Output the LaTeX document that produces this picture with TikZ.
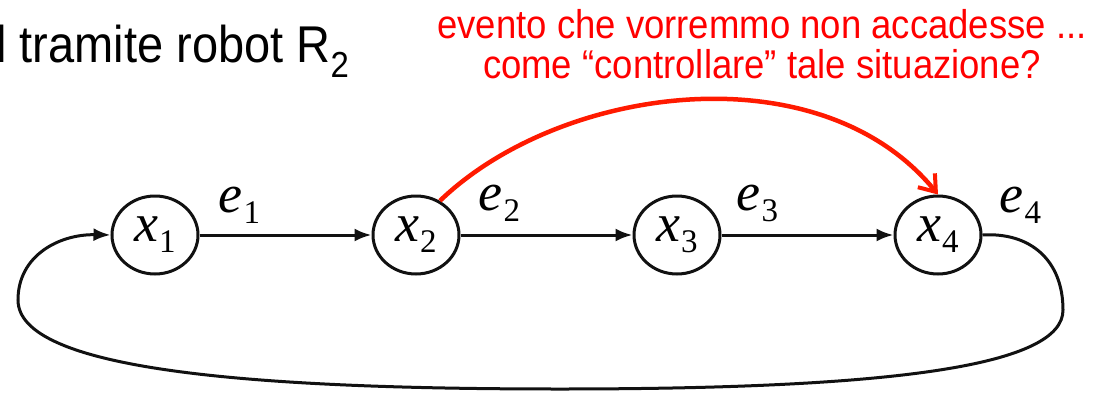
\documentclass[tikz,border=0pt]{standalone}
\usepackage{fontspec}
\setmainfont{Liberation Sans}
\newfontfamily\tmsfont{Liberation Serif}
\usepackage{xcolor}
\definecolor{evred}{HTML}{FF1A00}
\definecolor{evtext}{HTML}{FF0000}
\definecolor{stdark}{HTML}{111111}
\usepackage{tikz}
\usetikzlibrary{arrows.meta,positioning,shapes.geometric,calc}
\newcommand{\symsub}[2]{{\itshape #1}\kern1pt\raisebox{-11pt}{\fontsize{33}{36}\selectfont #2}}

\begin{document}
\begin{tikzpicture}[x=1pt,y=-1pt,>={Latex[length=17pt,width=13pt]},node distance=172pt]
\tikzset{
 state/.style={draw=stdark,ellipse,line width=3pt,minimum width=86pt,minimum height=78pt,inner sep=0pt,font=\tmsfont\fontsize{54}{58}\selectfont},
 lbl/.style={inner sep=0pt,font=\tmsfont\fontsize{54}{58}\selectfont},
 arrow/.style={->,draw=stdark,line width=3pt},
 redarrow/.style={-{Straight Barb[length=15pt,width=22pt,line width=4pt]},draw=evred,line width=4.5pt}
}
\useasboundingbox (0,0) rectangle (1109,394);
\node[state] (x1) at (155,235) {\symsub{x}{1}};
\node[state,right=of x1] (x2) {\symsub{x}{2}};
\node[state,right=of x2] (x3) {\symsub{x}{3}};
\node[state,right=of x3] (x4) {\symsub{x}{4}};
\node[lbl] (e1) at ($(x1.east)+(40,-30)$) {\symsub{e}{1}};
\node[lbl] (e2) at ($(x2.east)+(39,-32)$) {\symsub{e}{2}};
\node[lbl] (e3) at ($(x3.east)+(36,-32)$) {\symsub{e}{3}};
\node[lbl] (e4) at ($(x4.east)+(38,-30)$) {\symsub{e}{4}};
\draw[arrow] (x1)--(x2);
\draw[arrow] (x2)--(x3);
\draw[arrow] (x3)--(x4);
\draw[arrow] (x4.east) .. controls (1030,232) and (1063,260) .. (1063,310)
 .. controls (1063,365) and (900,389) .. (560,389)
 .. controls (250,389) and (18,370) .. (18,300)
 .. controls (18,255) and (60,234) .. (x1.west);
\draw[redarrow] (x2.55) .. controls (560,85) and (820,50) .. (x4.north);
% testi in alto
\node[anchor=base west,inner sep=0pt,font=\fontsize{47}{50}\selectfont] (robot) at (-4,62)
 {\scalebox{1}[1.1]{l tramite robot R\textsubscript{2}}};
\node[align=center,text=evtext,inner sep=0pt,font=\fontsize{36.5}{40}\selectfont] (quest) at (762,44)
 {\scalebox{1}[1.1]{evento che vorremmo non accadesse ...}\\ \scalebox{1}[1.1]{come “controllare” tale situazione?}};
\end{tikzpicture}
\end{document}
